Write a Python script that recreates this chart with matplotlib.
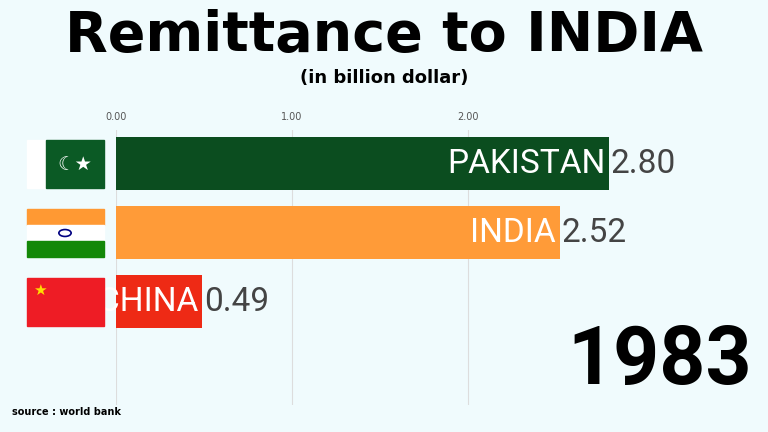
import matplotlib.pyplot as plt
import matplotlib.patches as patches

countries = ['PAKISTAN', 'INDIA', 'CHINA']
values = [2.80, 2.52, 0.49]
colors = ['#0B4D1F', '#FF9B38', '#EE2A15']
year = '1983'
ticks = [0.0, 1.0, 2.0]

W, H = 768, 432
bg = '#F0FBFD'
fig = plt.figure(figsize=(W / 100, H / 100), dpi=100, facecolor=bg)


def fx(px):
    return px / W


def fy(py):
    return 1 - py / H


ax = fig.add_axes([fx(116), fy(405), fx(740) - fx(116), fy(130) - fy(405)])
ax.set_facecolor(bg)
ax.set_xlim(0, (740 - 116) / 176)
ax.set_ylim(3.5, -0.486)
ax.barh(range(len(values)), values, height=0.77, color=colors, zorder=2)
for i, (name, v) in enumerate(zip(countries, values)):
    ax.text(v - 0.02, i, name, ha='right', va='center', color='white',
            fontsize=24, family='Roboto', zorder=3, clip_on=False)
    ax.text(v + 0.01, i, f'{v:.2f}', ha='left', va='center', color='#444444',
            fontsize=24, family='Roboto', zorder=3)
ax.set_xticks(ticks)
ax.set_xticklabels([f'{t:.2f}' for t in ticks], fontsize=7, color='#555555')
ax.xaxis.tick_top()
ax.tick_params(axis='x', length=0, pad=6)
ax.set_yticks([])
ax.grid(axis='x', color='#DDDDDD', lw=0.8, zorder=0)
for s in ax.spines.values():
    s.set_visible(False)

# flags
def rect(x0, y0, x1, y1, c):
    fig.patches.append(patches.Rectangle((fx(x0), fy(y1)), fx(x1 - x0), fy(y0) - fy(y1),
                                         transform=fig.transFigure, color=c, zorder=1))

rect(27, 140, 46, 188, 'white')
rect(46, 140, 104, 188, '#0B5A25')
fig.text(fx(75), fy(164), '☾★', color='white', fontsize=14, ha='center', va='center')
rect(27, 209, 104, 225, '#FF9933')
rect(27, 225, 104, 241, 'white')
rect(27, 241, 104, 257, '#138808')
fig.patches.append(patches.Circle((fx(65), fy(233)), 0.008, transform=fig.transFigure,
                                  fill=False, ec='#000080', lw=1.2))
rect(27, 278, 104, 326, '#EE1C25')
fig.text(fx(40), fy(290), '★', color='#FFDE00', fontsize=11, ha='center', va='center')

fig.text(0.5, fy(36), 'Remittance to INDIA', ha='center', va='center',
         fontsize=40, fontweight='bold', color='black')
fig.text(0.5, fy(78), '(in billion dollar)', ha='center', va='center',
         fontsize=13, fontweight='bold', color='black')
fig.text(fx(752), fy(362), year, ha='right', va='center', fontsize=58,
         fontweight='bold', color='black', family='Roboto')
fig.text(fx(12), fy(412), 'source : world bank', ha='left', va='center',
         fontsize=7, fontweight='bold', color='black')

fig.savefig('out.png', dpi=100, facecolor=bg)
